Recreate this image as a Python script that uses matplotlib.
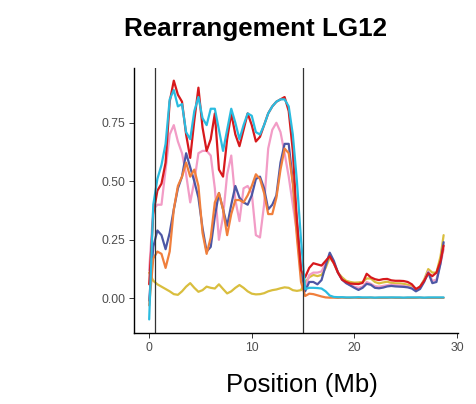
import matplotlib
matplotlib.use("Agg")
import matplotlib.pyplot as plt

plt.rcParams['font.family'] = ['Liberation Sans', 'DejaVu Sans']

pos = [0.0, 0.4, 0.8, 1.2, 1.6, 2.0, 2.4, 2.8, 3.2, 3.6, 4.0, 4.4, 4.8, 5.2, 5.6,
       6.0, 6.4, 6.8, 7.2, 7.6, 8.0, 8.4, 8.8, 9.2, 9.6, 10.0, 10.4, 10.8, 11.2,
       11.6, 12.0, 12.4, 12.8, 13.2, 13.6, 14.0, 14.4, 14.8, 15.2,
       15.6, 16.0, 16.4, 16.8, 17.2, 17.6, 18.0, 18.4, 18.8, 19.2, 19.6, 20.0,
       20.4, 20.8, 21.2, 21.6, 22.0, 22.4, 22.8, 23.2, 23.6, 24.0, 24.4, 24.8,
       25.2, 25.6, 26.0, 26.4, 26.8, 27.2, 27.6, 28.0, 28.4, 28.7]

yellow = [0.11, 0.075, 0.06, 0.05, 0.04, 0.03, 0.018, 0.015, 0.03, 0.05, 0.065, 0.045, 0.028,
          0.035, 0.05, 0.045, 0.042, 0.06, 0.04, 0.021, 0.03, 0.045, 0.057, 0.045, 0.03,
          0.02, 0.017, 0.018, 0.022, 0.03, 0.035, 0.038, 0.043, 0.047, 0.045, 0.035, 0.032,
          0.035, 0.07,
          0.09, 0.10, 0.095, 0.10, 0.13, 0.175, 0.15, 0.11, 0.09, 0.075, 0.07, 0.067, 0.068,
          0.07, 0.085, 0.085, 0.07, 0.064, 0.068, 0.071, 0.066, 0.064, 0.064, 0.062, 0.058,
          0.05, 0.038, 0.05, 0.08, 0.125, 0.11, 0.11, 0.18, 0.27]

pink = [0.12, 0.38, 0.40, 0.40, 0.55, 0.70, 0.74, 0.67, 0.62, 0.53, 0.41, 0.50, 0.62, 0.63,
        0.63, 0.61, 0.47, 0.25, 0.35, 0.53, 0.61, 0.42, 0.33, 0.47, 0.48, 0.45, 0.27, 0.26,
        0.40, 0.64, 0.72, 0.75, 0.71, 0.62, 0.52, 0.40, 0.28, 0.10, 0.04,
        0.10, 0.11, 0.11, 0.115, 0.15, 0.185, 0.15, 0.11, 0.08, 0.065, 0.057, 0.05, 0.045,
        0.05, 0.07, 0.062, 0.052, 0.05, 0.053, 0.056, 0.058, 0.056, 0.055, 0.053, 0.05,
        0.045, 0.033, 0.045, 0.075, 0.115, 0.075, 0.08, 0.15, 0.21]

blue = [-0.01, 0.22, 0.29, 0.27, 0.21, 0.28, 0.38, 0.47, 0.52, 0.62, 0.56, 0.50, 0.43, 0.30,
        0.20, 0.22, 0.35, 0.45, 0.38, 0.31, 0.40, 0.48, 0.43, 0.41, 0.40, 0.44, 0.51, 0.52,
        0.47, 0.38, 0.40, 0.44, 0.58, 0.66, 0.66, 0.50, 0.33, 0.12, 0.03,
        0.07, 0.07, 0.06, 0.078, 0.14, 0.195, 0.16, 0.11, 0.08, 0.065, 0.055, 0.045, 0.036,
        0.045, 0.062, 0.058, 0.045, 0.043, 0.046, 0.051, 0.053, 0.051, 0.05, 0.049, 0.047,
        0.042, 0.03, 0.04, 0.07, 0.11, 0.065, 0.07, 0.15, 0.24]

orange = [-0.03, 0.17, 0.20, 0.19, 0.13, 0.20, 0.38, 0.48, 0.52, 0.58, 0.52, 0.55, 0.48, 0.28,
          0.19, 0.26, 0.41, 0.45, 0.38, 0.27, 0.36, 0.42, 0.42, 0.41, 0.44, 0.48, 0.53, 0.51,
          0.45, 0.36, 0.36, 0.43, 0.55, 0.64, 0.62, 0.49, 0.26, 0.07, 0.01,
          0.02, 0.018, 0.013, 0.008, 0.004, 0.003, 0.003, 0.002, 0.003, 0.002, 0.002, 0.003,
          0.002, 0.002, 0.002, 0.003, 0.002, 0.002, 0.002, 0.002, 0.003, 0.002, 0.002, 0.002,
          0.002, 0.002, 0.002, 0.003, 0.002, 0.002, 0.002, 0.002, 0.002, 0.002]

red = [0.06, 0.36, 0.46, 0.49, 0.58, 0.84, 0.93, 0.87, 0.84, 0.70, 0.60, 0.76, 0.90, 0.73,
       0.63, 0.68, 0.79, 0.55, 0.52, 0.68, 0.79, 0.70, 0.65, 0.72, 0.79, 0.74, 0.67, 0.69,
       0.74, 0.79, 0.82, 0.84, 0.85, 0.86, 0.80, 0.63, 0.33, 0.12, 0.09,
       0.13, 0.15, 0.145, 0.14, 0.16, 0.18, 0.15, 0.11, 0.08, 0.07, 0.063, 0.062, 0.061,
       0.066, 0.105, 0.09, 0.082, 0.078, 0.082, 0.083, 0.077, 0.075, 0.075, 0.074, 0.07,
       0.06, 0.04, 0.05, 0.075, 0.107, 0.095, 0.11, 0.16, 0.225]

cyan = [-0.09, 0.40, 0.51, 0.57, 0.66, 0.85, 0.89, 0.82, 0.83, 0.71, 0.68, 0.80, 0.86, 0.77,
        0.74, 0.81, 0.81, 0.72, 0.63, 0.72, 0.81, 0.75, 0.68, 0.74, 0.79, 0.78, 0.71, 0.70,
        0.74, 0.79, 0.82, 0.84, 0.85, 0.85, 0.82, 0.70, 0.50, 0.25, 0.04,
        0.045, 0.045, 0.044, 0.042, 0.03, 0.012, 0.006, 0.005, 0.005, 0.004, 0.004, 0.004,
        0.005, 0.004, 0.004, 0.004, 0.003, 0.004, 0.004, 0.004, 0.004, 0.004, 0.004, 0.003,
        0.004, 0.004, 0.004, 0.004, 0.003, 0.004, 0.004, 0.004, 0.004, 0.004]

breakpoints = [0.55, 15.0]
xticks = [0, 10, 20, 30]
yticks = [0.0, 0.25, 0.5, 0.75]
ytick_labels = ["0.00", "0.25", "0.50", "0.75"]

series = [
    (yellow, '#D9BE3E'),
    (pink, '#F29CC6'),
    (blue, '#4D57A5'),
    (orange, '#F07F3C'),
    (red, '#D7191C'),
    (cyan, '#2BBCE0'),
]

fig = plt.figure(figsize=(4.77, 4.04), dpi=100)
ax = fig.add_axes([134.5 / 477, 71 / 404, (458 - 134.5) / 477, (333 - 68) / 404])

for vals, col in series:
    ax.plot(pos, vals, color=col, lw=1.6, solid_joinstyle='round', solid_capstyle='round')

for b in breakpoints:
    ax.axvline(b, color='#333333', lw=0.9)

ax.set_xlim(-1.43, 30.1)
ax.set_ylim(-0.148, 0.984)
ax.set_xticks(xticks)
ax.set_xticklabels([str(t) for t in xticks])
ax.set_yticks(yticks)
ax.set_yticklabels(ytick_labels)

for s in ['top', 'right']:
    ax.spines[s].set_visible(False)
for s in ['left', 'bottom']:
    ax.spines[s].set_linewidth(1.0)
    ax.spines[s].set_color('black')

ax.tick_params(axis='both', length=3.8, width=0.7, color='#333333',
               labelsize=8.8, labelcolor='#4D4D4D', pad=3)

fig.text(256 / 477, 1 - 36 / 404, "Rearrangement LG12", ha='center', va='baseline',
         fontsize=18.7, fontweight='bold', color='black')
fig.text(302 / 477, 1 - 392 / 404, "Position (Mb)", ha='center', va='baseline',
         fontsize=18.5, color='black')

fig.savefig("out.png", dpi=100)
